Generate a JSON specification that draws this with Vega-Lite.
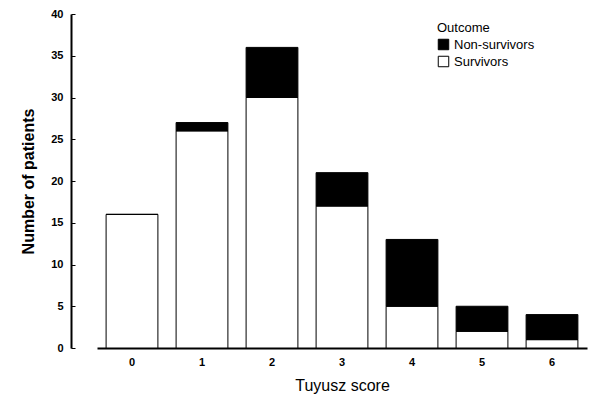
{
  "$schema": "https://vega.github.io/schema/vega-lite/v6.json",
  "width": 490,
  "height": 334,
  "autosize": "none",
  "padding": {"left": 97, "top": 14, "right": 2, "bottom": 57},
  "background": "white",
  "config": {
    "view": {"stroke": null},
    "font": "Liberation Sans"
  },
  "data": {
    "values": [
      {"score": "0", "outcome": "Survivors", "n": 16, "rank": 1},
      {"score": "0", "outcome": "Non-survivors", "n": 0, "rank": 2},
      {"score": "1", "outcome": "Survivors", "n": 26, "rank": 1},
      {"score": "1", "outcome": "Non-survivors", "n": 1, "rank": 2},
      {"score": "2", "outcome": "Survivors", "n": 30, "rank": 1},
      {"score": "2", "outcome": "Non-survivors", "n": 6, "rank": 2},
      {"score": "3", "outcome": "Survivors", "n": 17, "rank": 1},
      {"score": "3", "outcome": "Non-survivors", "n": 4, "rank": 2},
      {"score": "4", "outcome": "Survivors", "n": 5, "rank": 1},
      {"score": "4", "outcome": "Non-survivors", "n": 8, "rank": 2},
      {"score": "5", "outcome": "Survivors", "n": 2, "rank": 1},
      {"score": "5", "outcome": "Non-survivors", "n": 3, "rank": 2},
      {"score": "6", "outcome": "Survivors", "n": 1, "rank": 1},
      {"score": "6", "outcome": "Non-survivors", "n": 3, "rank": 2}
    ]
  },
  "mark": {"type": "bar", "stroke": "black", "strokeWidth": 1},
  "encoding": {
    "x": {
      "field": "score",
      "type": "ordinal",
      "scale": {"paddingInner": 0.26, "paddingOuter": 0.13},
      "axis": {
        "title": "Tuyusz score",
        "titleFontSize": 16,
        "titleFontWeight": "normal",
        "titlePadding": 10,
        "labelAngle": 0,
        "labelFontSize": 11,
        "labelFontWeight": "bold",
        "labelPadding": 8,
        "ticks": false,
        "domainColor": "black",
        "domainWidth": 2,
        "labelColor": "black",
        "titleColor": "black"
      }
    },
    "y": {
      "field": "n",
      "type": "quantitative",
      "stack": "zero",
      "scale": {"domain": [0, 40], "nice": false},
      "axis": {
        "title": "Number of patients",
        "titleFontSize": 16,
        "titleFontWeight": "bold",
        "titlePadding": 14,
        "offset": 26,
        "values": [0, 5, 10, 15, 20, 25, 30, 35, 40],
        "grid": false,
        "labelFontSize": 11,
        "labelFontWeight": "bold",
        "labelPadding": 12,
        "tickSize": -4,
        "tickColor": "black",
        "domainColor": "black",
        "domainWidth": 2,
        "labelColor": "black",
        "titleColor": "black"
      }
    },
    "color": {
      "field": "outcome",
      "type": "nominal",
      "scale": {"domain": ["Non-survivors", "Survivors"], "range": ["black", "white"]},
      "legend": {
        "title": "Outcome",
        "orient": "none",
        "legendX": 340,
        "legendY": 8,
        "titleFontSize": 13,
        "titleFontWeight": "normal",
        "titleColor": "black",
        "labelFontSize": 13,
        "labelColor": "black",
        "symbolType": "square",
        "symbolSize": 110,
        "symbolStrokeColor": "black",
        "symbolStrokeWidth": 1,
        "rowPadding": 2,
        "titlePadding": 3
      }
    },
    "order": {"field": "rank", "type": "quantitative"}
  }
}
